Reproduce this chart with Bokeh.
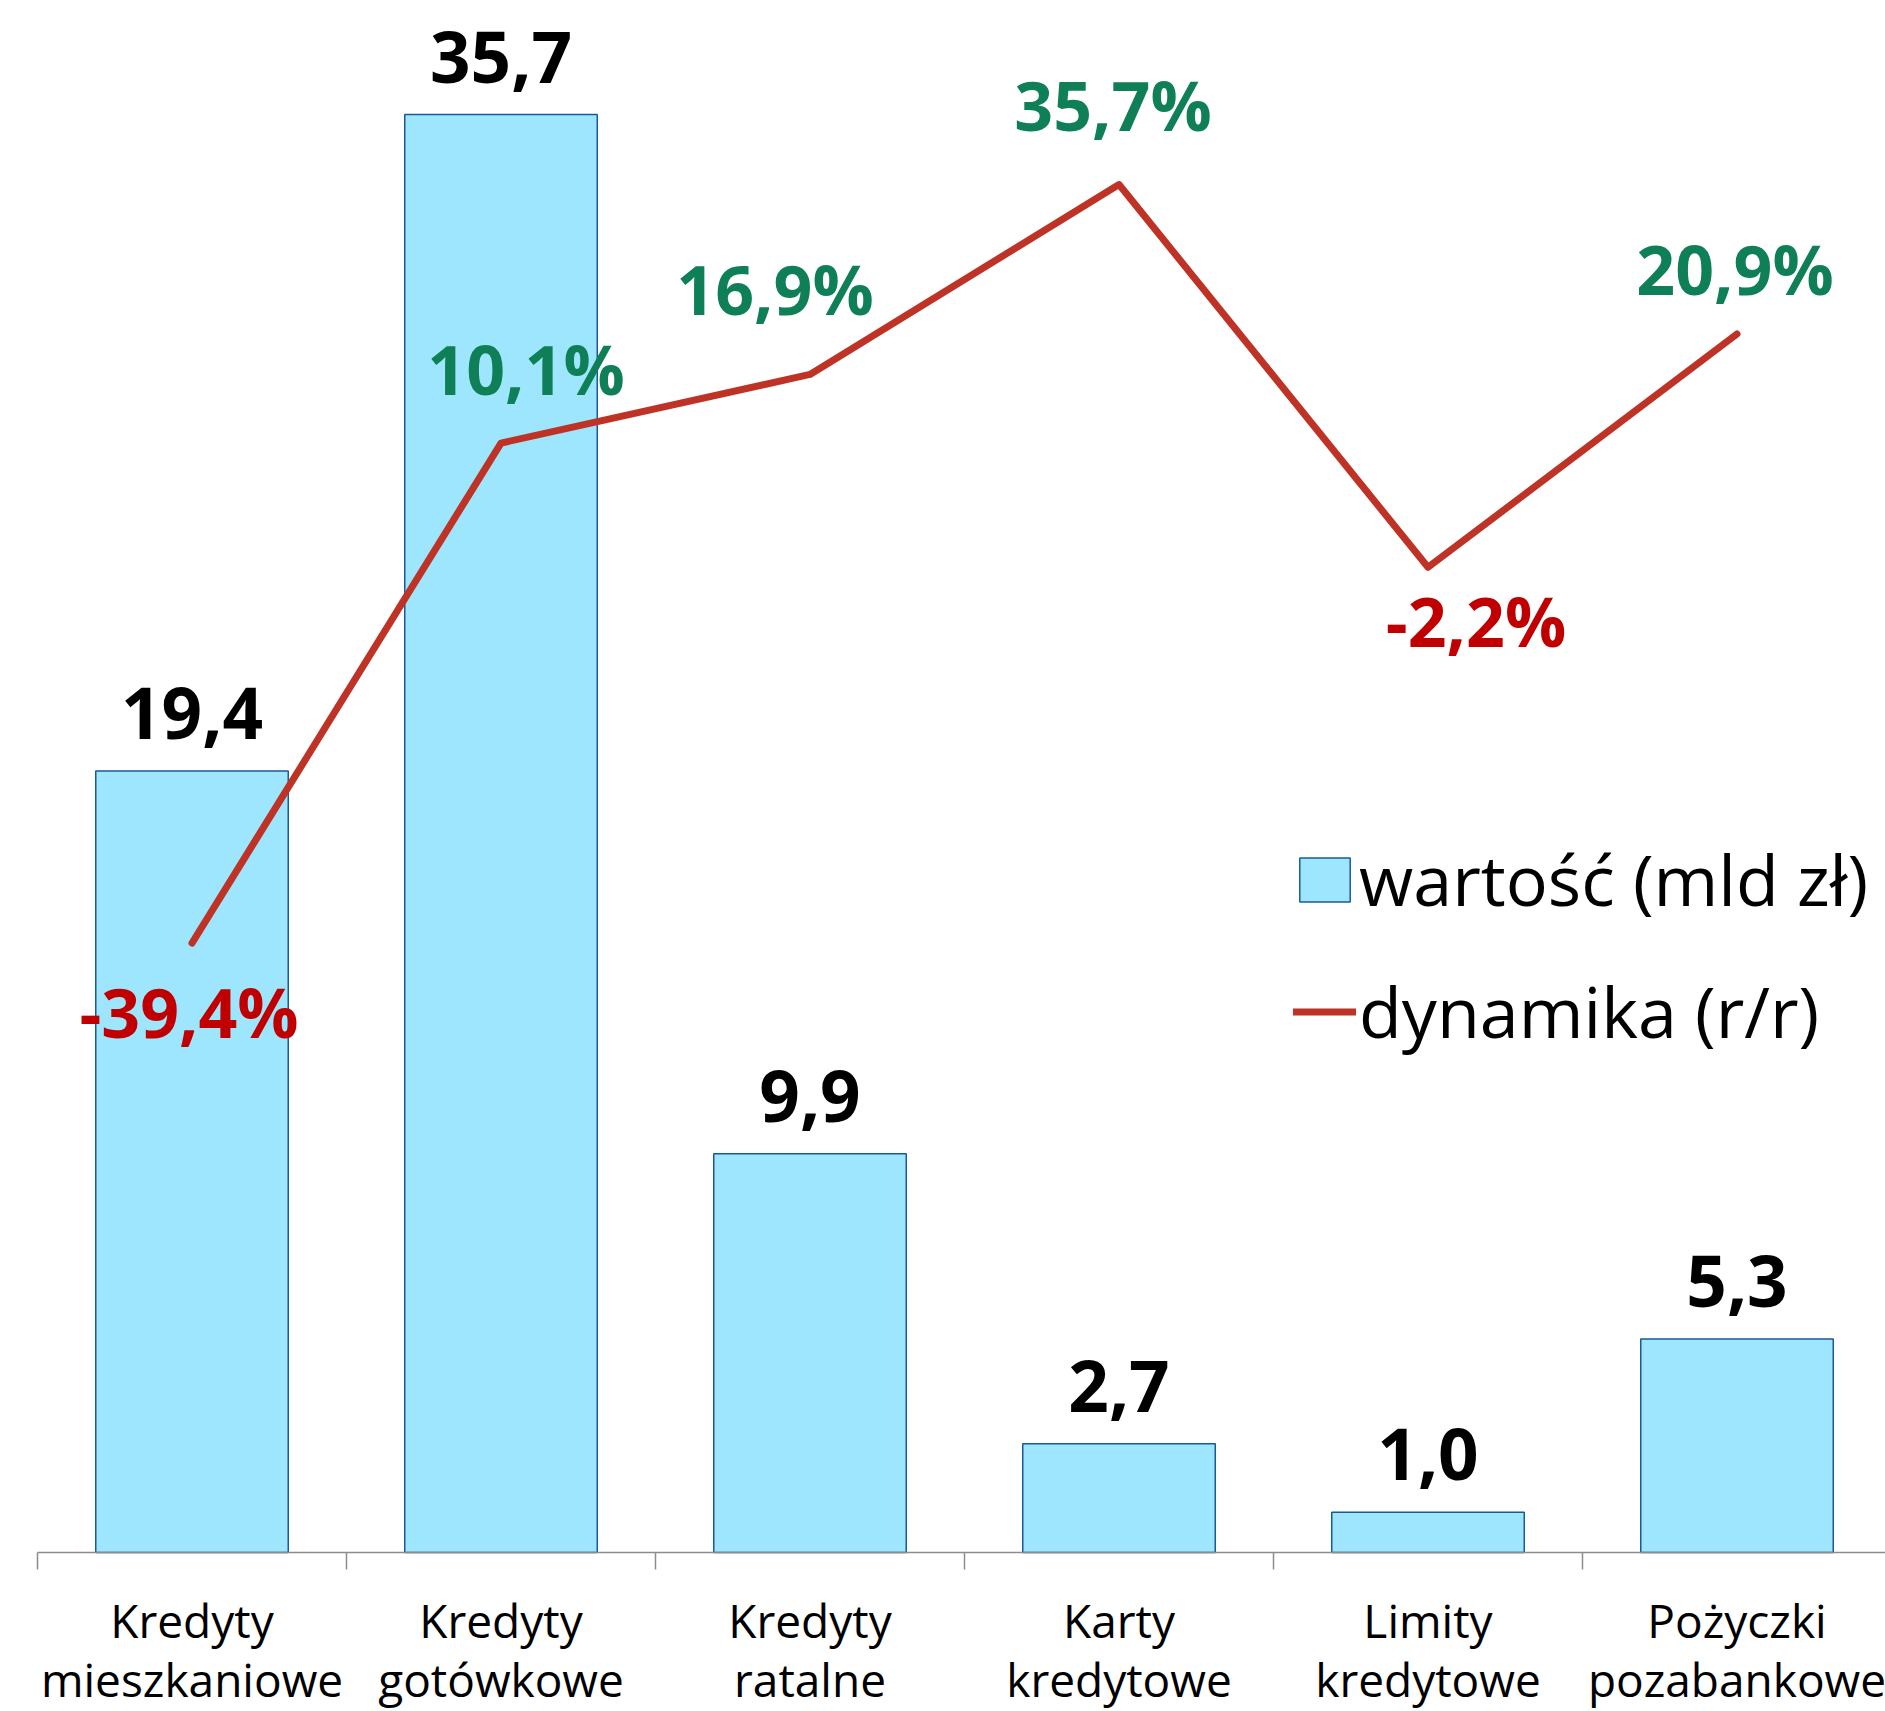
from bokeh.plotting import figure
from bokeh.models import ColumnDataSource, Range1d, Legend, LegendItem
from bokeh.core.properties import value
from bokeh.embed import file_html
from bokeh.resources import INLINE

# ---- data ----
categories_l1 = ["Kredyty", "Kredyty", "Kredyty", "Karty", "Limity", "Pożyczki"]
categories_l2 = ["mieszkaniowe", "gotówkowe", "ratalne", "kredytowe", "kredytowe", "pozabankowe"]
values = [19.4, 35.7, 9.9, 2.7, 1.0, 5.3]          # wartość (mld zł)
growth = [-39.4, 10.1, 16.9, 35.7, -2.2, 20.9]     # dynamika (r/r), %
series_names = ["wartość (mld zł)", "dynamika (r/r)"]

# label placement (screen px offsets from the line points)
pct_dx = [-3, 25, -35, -6, 48, -2]
pct_dy = [68, -75, -86, -80, 53, -66]

FONT = "Open Sans"
W, H = 1885, 1711
UNIT_X = 309.0
UNIT_Y = 40.28
UNIT_P = 10.1
BASE = 1552.0   # pixel row of value 0
ZERO_P = 544.6  # pixel row of 0 %

n = len(categories_l1)
idx = list(range(n))
x_start = -0.5 - 37 / UNIT_X

p = figure(width=W, height=H, output_backend="svg", toolbar_location=None,
           x_range=Range1d(x_start, x_start + W / UNIT_X),
           y_range=Range1d(-(H - BASE) / UNIT_Y, BASE / UNIT_Y),
           x_axis_location=None, y_axis_location=None,
           min_border=0, outline_line_color=None)
p.extra_y_ranges = {"pct": Range1d(-(H - ZERO_P) / UNIT_P, ZERO_P / UNIT_P)}
p.grid.visible = False
p.background_fill_color = "white"
p.border_fill_color = "white"

src = ColumnDataSource(dict(
    x=idx, v=values, g=growth,
    vlab=[f"{v:.1f}".replace(".", ",") for v in values],
    glab=[f"{g:.1f}".replace(".", ",") + "%" for g in growth],
    gcol=["#0E7F56" if g >= 0 else "#C00000" for g in growth],
    dx=pct_dx, dy=pct_dy,
))

bars = p.vbar(x="x", top="v", width=0.623, bottom=0, source=src,
              fill_color="#9DE6FE", line_color="#1B5A96", line_width=1.5)

# baseline and category boundary ticks
bounds = [i - 0.5 for i in range(n + 1)]
p.segment(x0=[-0.5], x1=[n - 0.5], y0=[0], y1=[0], line_color="#8C8C8C", line_width=1.5)
p.segment(x0=bounds, x1=bounds, y0=[0] * len(bounds), y1=[-17 / UNIT_Y] * len(bounds),
          line_color="#8C8C8C", line_width=1.5)

line = p.line(x="x", y="g", source=src, y_range_name="pct",
              line_color="#BE3326", line_width=7, line_join="round", line_cap="round")

# value labels above bars
p.text(x="x", y="v", text="vlab", source=src, text_align="center",
       text_baseline="alphabetic", y_offset=-58, text_font=value(FONT),
       text_font_style="bold", text_font_size="71px", text_color="black")

# percent labels
p.text(x="x", y="g", text="glab", source=src, y_range_name="pct",
       x_offset="dx", y_offset="dy", text_align="center", text_baseline="alphabetic",
       text_font=value(FONT), text_font_style="bold", text_font_size="68px",
       text_color="gcol")

# category labels (two lines)
p.text(x=idx, y=[0] * n, text=categories_l1, y_offset=67, text_align="center",
       text_baseline="alphabetic", text_font=value(FONT), text_font_size="46px",
       text_color="black")
p.text(x=idx, y=[0] * n, text=categories_l2, y_offset=126, text_align="center",
       text_baseline="alphabetic", text_font=value(FONT), text_font_size="46px",
       text_color="black")

legend = Legend(items=[LegendItem(label=series_names[0], renderers=[bars]),
                       LegendItem(label=series_names[1], renderers=[line])],
                location=(1293, 652), orientation="vertical",
                glyph_width=63, glyph_height=55, label_standoff=3,
                label_text_font=FONT, label_text_font_size="70px",
                label_text_color="black", spacing=36, padding=0, margin=0,
                border_line_color=None, background_fill_alpha=0)
p.add_layout(legend)

open("out.html", "w").write(file_html(p, INLINE))
